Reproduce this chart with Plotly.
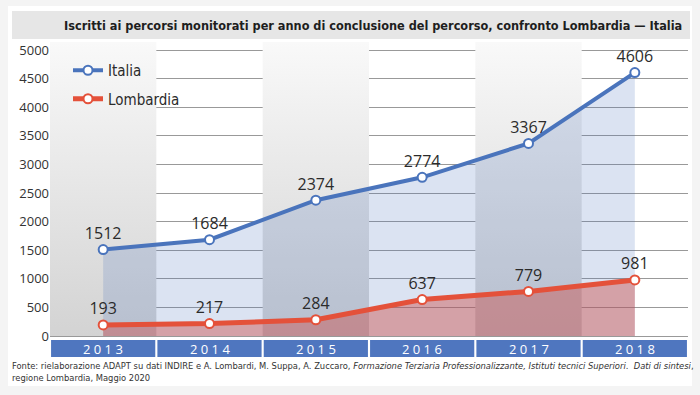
import plotly.graph_objects as go

years = ["2013", "2014", "2015", "2016", "2017", "2018"]
italia = [1512, 1684, 2374, 2774, 3367, 4606]
lombardia = [193, 217, 284, 637, 779, 981]
y_ticks = [0, 500, 1000, 1500, 2000, 2500, 3000, 3500, 4000, 4500, 5000]

title_text = "Iscritti ai percorsi monitorati per anno di conclusione del percorso, confronto Lombardia \u2014 Italia"
source_text = ("Fonte: rielaborazione ADAPT su dati INDIRE e A. Lombardi, M. Suppa, A. Zuccaro, "
               "<i>Formazione Terziaria Professionalizzante, Istituti tecnici Superiori</i>.  "
               "<i>Dati di sintesi</i>,<br>regione Lombardia, Maggio 2020")

NARROW = "DejaVu Sans Condensed, sans-serif"
BLUE = "#4a74bc"
RED = "#e4513a"
Y_TOP = 5140

xs = list(range(len(years)))
fig = go.Figure()

# alternating gradient column bands
for i in xs:
    if i % 2 == 0:
        fig.add_trace(go.Scatter(
            x=[i - 0.5, i + 0.5, i + 0.5, i - 0.5, i - 0.5],
            y=[0, 0, Y_TOP, Y_TOP, 0],
            mode="none", fill="toself",
            fillgradient=dict(type="vertical", start=0, stop=Y_TOP,
                              colorscale=[[0, "#d3d3d3"], [1, "#f9f9f9"]]),
            showlegend=False, hoverinfo="skip"))

# area fills
fig.add_trace(go.Scatter(x=xs, y=italia, mode="none", fill="tozeroy",
                         fillcolor="rgba(74,116,188,0.2)", showlegend=False, hoverinfo="skip"))
fig.add_trace(go.Scatter(x=xs, y=lombardia, mode="none", fill="tozeroy",
                         fillcolor="rgba(205,80,75,0.45)", showlegend=False, hoverinfo="skip"))

# lines
fig.add_trace(go.Scatter(
    x=xs, y=italia, name="Italia", mode="lines+markers+text",
    text=[str(v) for v in italia], textposition="top center",
    textfont=dict(size=16, color="#2b2b2b", family="Open Sans, sans-serif"),
    line=dict(color=BLUE, width=4),
    marker=dict(size=9, color="white", line=dict(color=BLUE, width=2)),
    legendgroup="a", cliponaxis=False))

fig.add_trace(go.Scatter(
    x=xs, y=lombardia, name="Lombardia", mode="lines+markers+text",
    text=[str(v) for v in lombardia], textposition="top center",
    textfont=dict(size=16, color="#2b2b2b", family="Open Sans, sans-serif"),
    line=dict(color=RED, width=5),
    marker=dict(size=9, color="white", line=dict(color=RED, width=2)),
    legendgroup="b", cliponaxis=False))

shapes = []
# white card
shapes.append(dict(type="rect", xref="paper", yref="paper",
                   x0=(8 - 50) / 638, x1=(692 - 50) / 638,
                   y0=(336 - 386) / 294, y1=(336 - 6) / 294,
                   fillcolor="white", line=dict(width=0), layer="below"))
# title bar
shapes.append(dict(type="rect", xref="paper", yref="paper",
                   x0=(12 - 50) / 638, x1=(690 - 50) / 638,
                   y0=(336 - 39) / 294, y1=(336 - 11) / 294,
                   fillcolor="#e6e6e6", line=dict(width=0), layer="below"))

annotations = []
# year boxes
for i, yr in enumerate(years):
    shapes.append(dict(type="rect", xref="x", yref="paper",
                       x0=i - 0.5 + 0.01, x1=i + 0.5 - 0.01,
                       y0=(336 - 357) / 294, y1=(336 - 340) / 294,
                       fillcolor="#4f76bf", line=dict(width=0)))
    annotations.append(dict(x=i, y=(336 - 348.5) / 294, xref="x", yref="paper",
                            text=" ".join(yr), showarrow=False,
                            font=dict(size=13, color="white", family="Open Sans, sans-serif"),
                            xanchor="center", yanchor="middle"))

annotations.append(dict(x=(684 - 50) / 638, y=(336 - 25.5) / 294, xref="paper", yref="paper",
                        text="<b>" + title_text + "</b>", showarrow=False,
                        xanchor="right", yanchor="middle",
                        font=dict(size=12.6, color="#1e1e1e", family=NARROW)))
annotations.append(dict(x=(10 - 50) / 638, y=(336 - 358) / 294, xref="paper", yref="paper",
                        text=source_text, showarrow=False, align="left",
                        xanchor="left", yanchor="top",
                        font=dict(size=9.3, color="#333333", family=NARROW)))

fig.update_layout(
    width=700, height=395,
    margin=dict(l=50, r=12, t=42, b=59),
    paper_bgcolor="#f4f4f4", plot_bgcolor="white",
    shapes=shapes, annotations=annotations,
    showlegend=True,
    legend=dict(x=(68 - 50) / 638, y=(336 - 54) / 294, xanchor="left", yanchor="top",
                bgcolor="rgba(0,0,0,0)", font=dict(size=15, color="#2b2b2b", family=NARROW),
                tracegroupgap=6, traceorder="grouped", itemwidth=30),
    xaxis=dict(range=[-0.5, len(years) - 0.5], showticklabels=False, showgrid=False,
               zeroline=False, fixedrange=True),
    yaxis=dict(range=[0, Y_TOP], tickvals=y_ticks, ticktext=[str(v) for v in y_ticks],
               showgrid=True, gridcolor="#999999", gridwidth=1, zeroline=True,
               zerolinecolor="#999999", zerolinewidth=1,
               tickfont=dict(size=13, color="#333333", family="Open Sans, sans-serif"),
               layer="above traces"),
)

fig.write_html("out.html", config={"displayModeBar": False},
               post_script="document.body.style.margin='0';")
